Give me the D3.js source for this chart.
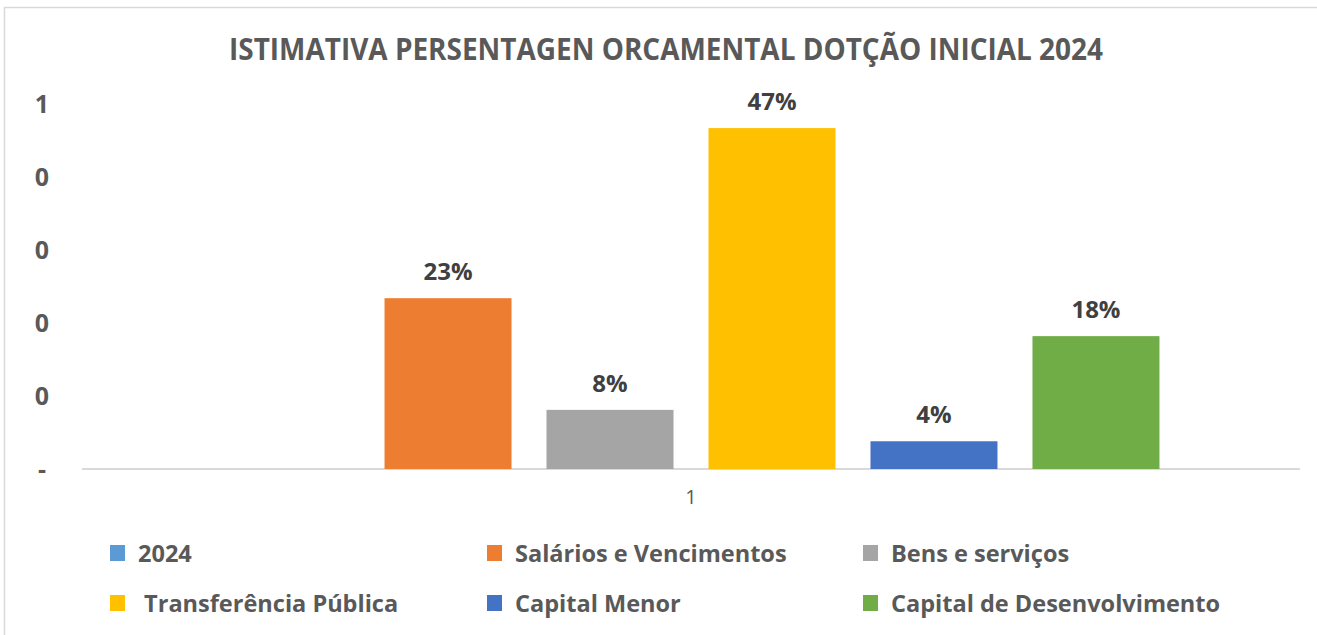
<!DOCTYPE html>
<html>
<head>
<meta charset="utf-8">
<script src="https://cdn.jsdelivr.net/npm/d3@7"></script>
<style>
  body { margin: 0; background: #fff; }
  svg { display: block; font-family: "Open Sans", "Noto Sans", sans-serif; }
</style>
</head>
<body>
<svg id="chart"></svg>
<script>
const width = 1317;
const height = 635;

// chart data
const categories = ["1"];
const seriesNames = ["2024", "Salários e Vencimentos", "Bens e serviços", " Transferência Pública", "Capital Menor", "Capital de Desenvolvimento"];
const seriesValues = [null, 0.234, 0.081, 0.467, 0.038, 0.182];
const seriesColors = ["#5B9BD5", "#ED7D31", "#A5A5A5", "#FFC000", "#4472C4", "#70AD47"];
const yTicks = [0, 0.1, 0.2, 0.3, 0.4, 0.5];
const title = "ISTIMATIVA PERSENTAGEN ORCAMENTAL DOTÇÃO INICIAL 2024";

const svg = d3.select("#chart")
  .attr("width", width)
  .attr("height", height);

// squeeze wide fallback font toward Calibri proportions
function squeeze(sel, k) {
  sel.each(function() {
    const w = this.getComputedTextLength();
    d3.select(this).attr("textLength", w * k).attr("lengthAdjust", "spacingAndGlyphs");
  });
}

// chart frame
svg.append("rect")
  .attr("x", 4.5).attr("y", 7.5)
  .attr("width", width + 20).attr("height", height + 20)
  .attr("fill", "#fff")
  .attr("stroke", "#d9d9d9")
  .attr("stroke-width", 1.5);

const plot = { left: 82, right: 1300 };

const y = d3.scaleLinear().domain([0, 0.5]).range([469, 104]);

const x0 = d3.scaleBand()
  .domain(categories)
  .range([plot.left, plot.right])
  .paddingOuter(0.15)
  .paddingInner(0);

const x1 = d3.scaleBand()
  .domain(seriesNames)
  .range([0, x0.bandwidth()])
  .paddingInner(0.216)
  .paddingOuter(0);

// title
svg.append("text")
  .attr("x", 666).attr("y", 60)
  .attr("text-anchor", "middle")
  .attr("font-size", 30)
  .attr("font-weight", "bold")
  .attr("fill", "#595959")
  .text(title)
  .call(s => s.attr("textLength", 874).attr("lengthAdjust", "spacingAndGlyphs"));

// y axis (labels only)
const yAxis = svg.append("g")
  .attr("transform", "translate(50,0)")
  .call(d3.axisLeft(y).tickValues(yTicks).tickSize(0).tickPadding(0)
    .tickFormat(d => d === 0 ? "-" : String(Math.round(d))));
yAxis.select(".domain").remove();
yAxis.selectAll("text")
  .attr("x", -8)
  .attr("text-anchor", "middle")
  .attr("font-family", "'Open Sans', sans-serif")
  .attr("font-size", 25)
  .attr("font-weight", "bold")
  .attr("fill", "#595959");

// x axis
const xAxis = svg.append("g")
  .attr("transform", `translate(0,${y(0)})`)
  .call(d3.axisBottom(x0).tickSize(0).tickPadding(21));
xAxis.select(".domain")
  .attr("d", `M${plot.left},0H${plot.right}`)
  .attr("stroke", "#d9d9d9")
  .attr("stroke-width", 2);
xAxis.selectAll("text")
  .attr("font-family", "'Open Sans', sans-serif")
  .attr("font-size", 20)
  .attr("fill", "#595959");

// bars
const rows = categories.map(c => seriesNames.map((name, i) => ({ cat: c, name, value: seriesValues[i], color: seriesColors[i] })));

const groups = svg.selectAll("g.cat")
  .data(rows)
  .enter().append("g")
  .attr("class", "cat")
  .attr("transform", (d, i) => `translate(${x0(categories[i])},0)`);

groups.selectAll("rect")
  .data(d => d.filter(v => v.value != null))
  .enter().append("rect")
  .attr("x", d => x1(d.name))
  .attr("width", x1.bandwidth())
  .attr("y", d => y(d.value))
  .attr("height", d => y(0) - y(d.value))
  .attr("fill", d => d.color);

groups.selectAll("text.lbl")
  .data(d => d.filter(v => v.value != null))
  .enter().append("text")
  .attr("class", "lbl")
  .attr("x", d => x1(d.name) + x1.bandwidth() / 2)
  .attr("y", d => y(d.value) - 18)
  .attr("text-anchor", "middle")
  .attr("font-size", 24)
  .attr("font-weight", "bold")
  .attr("fill", "#404040")
  .text(d => d3.format(".0%")(d.value));

// legend
const legendCols = [110, 487, 863];
const legendRows = [562, 612];
const legend = svg.append("g");
const items = legend.selectAll("g")
  .data(seriesNames.map((name, i) => ({ name, color: seriesColors[i], i })))
  .enter().append("g")
  .attr("transform", d => `translate(${legendCols[d.i % 3]},${legendRows[Math.floor(d.i / 3)]})`);

items.append("rect")
  .attr("x", 0).attr("y", -17)
  .attr("width", 15).attr("height", 16)
  .attr("fill", d => d.color);

items.append("text")
  .attr("x", 28)
  .attr("xml:space", "preserve")
  .style("white-space", "pre")
  .attr("font-size", 24)
  .attr("font-weight", "bold")
  .attr("fill", "#595959")
  .text(d => d.name)
  .call(squeeze, 0.98);
</script>
</body>
</html>
